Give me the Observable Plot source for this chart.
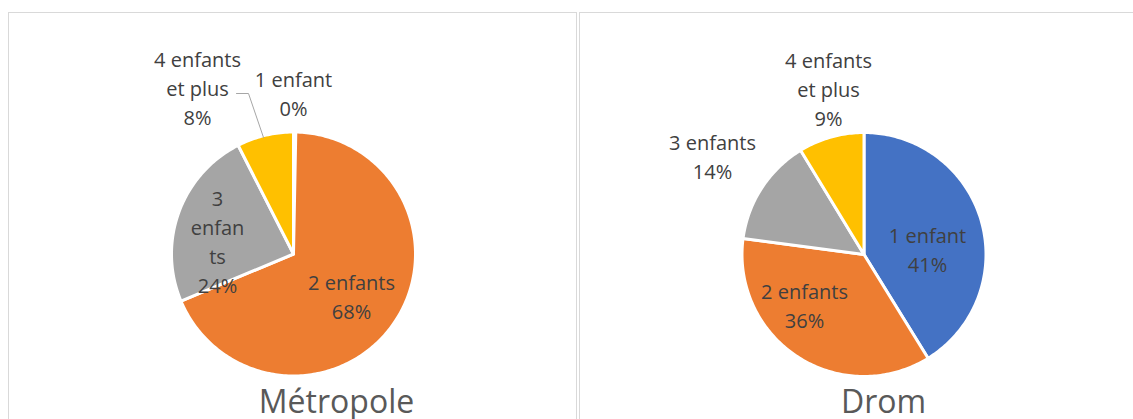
<!DOCTYPE html>
<html>
<head>
<meta charset="utf-8">
<script src="https://cdn.jsdelivr.net/npm/d3@7"></script>
<script src="https://cdn.jsdelivr.net/npm/@observablehq/plot@0.6"></script>
<style>
  html, body { margin: 0; padding: 0; background: #fff; }
  #chart { width: 1133px; height: 419px; overflow: hidden; }
</style>
</head>
<body>
<div id="chart"></div>
<script>
// ---- Data ----
const categories = ["1 enfant", "2 enfants", "3 enfants", "4 enfants et plus"];
const metropoleValues = [0.3, 68.4, 23.8, 7.5];
const dromValues = [41.2, 35.9, 14.2, 8.7];
const pieTitles = ["Métropole", "Drom"];
const colors = ["#4472C4", "#ED7D31", "#A5A5A5", "#FFC000"];

// ---- Layout (pixels) ----
const W = 1133, H = 419;
const pieCenters = [[293, 253.5], [863.5, 254]];
const pieRadius = 122;
const titlePos = [[336, 402], [883, 402]];
// label text wrapping (as rendered in the reference) and label block centers
const labelLines = [
  [["1 enfant"], ["2 enfants"], ["3", "enfan", "ts"], ["4 enfants", "et plus"]],
  [["1 enfant"], ["2 enfants"], ["3 enfants"], ["4 enfants", "et plus"]]
];
const labelPos = [
  [[293, 91.5], [351, 294.5], [217, 240], [197, 86]],
  [[927, 247.5], [804, 303.5], [712, 154.5], [828, 87]]
];
const leader = [[236, 93], [248, 93], [263, 137]];
const panels = [
  {x1: 8.5, x2: 576.5, y1: 12.5, y2: 440},
  {x1: 579.5, x2: 1160, y1: 12.5, y2: 440}
];

// ---- Build slice polygons from data ----
const series = [metropoleValues, dromValues];
const pie = d3.pie().sort(null).value(d => d.value).startAngle(0).endAngle(2 * Math.PI);
const slicePts = [];
const labels = [];
series.forEach((vals, p) => {
  const [cx, cy] = pieCenters[p];
  const arcs = pie(vals.map((v, i) => ({value: v, category: categories[i]})));
  arcs.forEach((a, i) => {
    const key = p + "-" + i;
    slicePts.push({key, category: a.data.category, px: cx, py: cy});
    const n = Math.max(2, Math.ceil((a.endAngle - a.startAngle) / (Math.PI / 180)));
    for (let k = 0; k <= n; k++) {
      const t = a.startAngle + (a.endAngle - a.startAngle) * k / n;
      slicePts.push({key, category: a.data.category, px: cx + pieRadius * Math.sin(t), py: cy - pieRadius * Math.cos(t)});
    }
    const pct = Math.round(vals[i]) + "%";
    labels.push({
      x: labelPos[p][i][0], y: labelPos[p][i][1],
      text: [...labelLines[p][i], pct].join("\n")
    });
  });
});
const titles = pieTitles.map((t, p) => ({x: titlePos[p][0], y: titlePos[p][1], text: t}));
const leaderPts = leader.map(([x, y]) => ({x, y}));

const font = "'Open Sans', 'DejaVu Sans', sans-serif";

const chart = Plot.plot({
  width: W, height: H,
  margin: 0,
  x: {domain: [0, W], range: [0, W], axis: null},
  y: {domain: [0, H], range: [0, H], axis: null},
  color: {domain: categories, range: colors},
  style: {fontFamily: font, background: "#fff"},
  marks: [
    Plot.rect(panels, {x1: "x1", x2: "x2", y1: "y1", y2: "y2", fill: "none", stroke: "#D9D9D9", strokeWidth: 1}),
    Plot.line(slicePts, {x: "px", y: "py", z: "key", fill: "category", stroke: "white", strokeWidth: 3, curve: "linear-closed"}),
    Plot.line(leaderPts, {x: "x", y: "y", stroke: "#A6A6A6", strokeWidth: 1}),
    Plot.text(labels, {x: "x", y: "y", text: "text", fontSize: 20, lineHeight: 1.45, fill: "#404040", fontFamily: font}),
    Plot.text(titles, {x: "x", y: "y", text: "text", fontSize: 32, fill: "#595959", fontFamily: font})
  ]
});
document.getElementById("chart").appendChild(chart);
</script>
</body>
</html>
